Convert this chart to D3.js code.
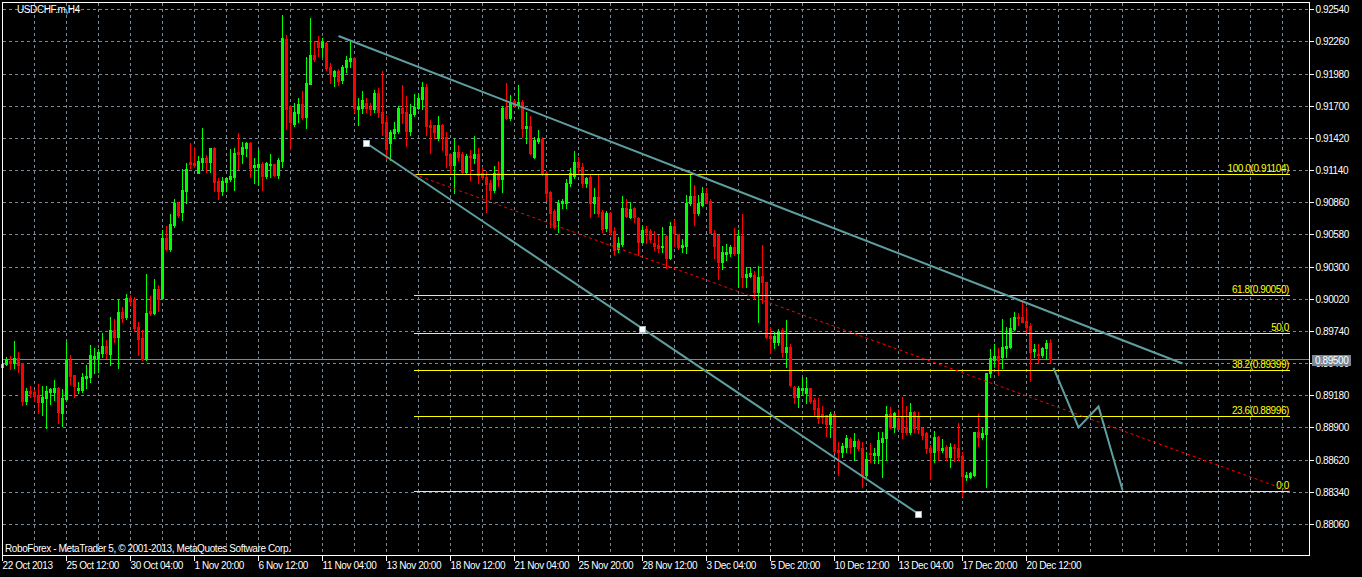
<!DOCTYPE html>
<html>
<head>
<meta charset="utf-8">
<script src="https://cdn.jsdelivr.net/npm/d3@7"></script>
<style>
  html, body { margin: 0; padding: 0; background: #000; overflow: hidden; }
  svg { display: block; }
  text { font-family: "Liberation Sans", Arial, sans-serif; font-size: 10px; letter-spacing: -0.4px; }
</style>
</head>
<body>
<svg id="chart" width="1362" height="577"></svg>
<script>
// USDCHF H4 candles, 22 Oct 2013 20:00 .. 23 Dec 2013 08:00
const open = [
0.89427,0.89453,0.89479,0.89461,0.89505,0.89461,0.89131,0.89218,0.89209,0.89183,
0.89122,0.89157,0.89209,0.89209,0.89244,0.89026,0.89148,0.89488,0.89357,0.89226,
0.89226,0.89331,0.89340,0.89505,0.89505,0.89549,0.89609,0.89540,0.89749,0.89688,
0.89905,0.89862,0.90027,0.90019,0.89775,0.89679,0.89496,0.89914,0.89897,0.90106,
0.90027,0.90549,0.90454,0.90663,0.90854,0.90776,0.90959,0.91211,0.91202,0.91115,
0.91211,0.91246,0.91211,0.91333,0.91046,0.90959,0.91037,0.91063,0.91080,0.91298,
0.91281,0.91333,0.91376,0.91167,0.91167,0.91194,0.91089,0.91185,0.91194,0.91098,
0.91220,0.92282,0.91698,0.91542,0.91637,0.91716,0.91603,0.91890,0.92142,0.92255,
0.92212,0.92247,0.92038,0.91960,0.92003,0.91925,0.92038,0.92090,0.92116,0.91672,
0.91681,0.91725,0.91690,0.91672,0.91812,0.91646,0.91559,0.91376,0.91463,0.91481,
0.91681,0.91646,0.91481,0.91629,0.91681,0.91759,0.91864,0.91533,0.91533,0.91420,
0.91533,0.91429,0.91281,0.91185,0.91298,0.91281,0.91124,0.91263,0.91246,0.91281,
0.91115,0.91080,0.91028,0.90967,0.91115,0.91063,0.91690,0.91594,0.91742,0.91707,
0.91733,0.91507,0.91524,0.91255,0.91394,0.91411,0.91115,0.90950,0.90785,0.90706,
0.90854,0.90854,0.91028,0.91089,0.91211,0.91167,0.91028,0.91080,0.90854,0.90906,
0.90776,0.90637,0.90767,0.90610,0.90454,0.90497,0.90811,0.90732,0.90811,0.90724,
0.90515,0.90628,0.90610,0.90506,0.90489,0.90471,0.90567,0.90375,0.90654,0.90584,
0.90471,0.90480,0.90854,0.90915,0.90767,0.90837,0.90941,0.90872,0.90593,0.90576,
0.90341,0.90410,0.90419,0.90471,0.90419,0.90567,0.90210,0.90219,0.90227,0.90079,
0.90219,0.90167,0.89697,0.89644,0.89644,0.89749,0.89557,0.89601,0.89253,0.89166,
0.89226,0.89200,0.89244,0.89139,0.89070,0.89018,0.89009,0.88931,0.89018,0.88704,
0.88687,0.88730,0.88800,0.88739,0.88783,0.88722,0.88487,0.88678,0.88661,0.88661,
0.88774,0.88809,0.89018,0.88904,0.88983,0.88991,0.88904,0.88861,0.89035,0.88991,
0.88896,0.88852,0.88722,0.88687,0.88817,0.88704,0.88730,0.88643,0.88730,0.88722,
0.88652,0.88469,0.88469,0.88487,0.88861,0.88817,0.88844,0.89374,0.89488,0.89522,
0.89514,0.89592,0.89601,0.89757,0.89862,0.89862,0.89827,0.89784,0.89566,0.89540,
0.89531,0.89592,0.89636
];
const high = [
0.89470,0.89514,0.89522,0.89653,0.89557,0.89461,0.89244,0.89261,0.89226,0.89279,
0.89261,0.89261,0.89244,0.89314,0.89253,0.89235,0.89644,0.89531,0.89357,0.89296,
0.89374,0.89444,0.89618,0.89592,0.89583,0.89723,0.89662,0.89862,0.89844,0.90019,
0.89949,0.90062,0.90053,0.90036,0.89818,0.89749,0.90236,0.90045,0.90193,0.90140,
0.90619,0.90654,0.90758,0.90889,0.90863,0.91150,0.91202,0.91376,0.91342,0.91263,
0.91507,0.91272,0.91333,0.91342,0.91072,0.91080,0.91080,0.91324,0.91333,0.91463,
0.91385,0.91385,0.91385,0.91246,0.91324,0.91211,0.91211,0.91281,0.91194,0.91246,
0.92490,0.92316,0.91707,0.91725,0.91768,0.91829,0.92125,0.92464,0.92264,0.92308,
0.92290,0.92255,0.92073,0.92012,0.92020,0.92055,0.92134,0.92264,0.92125,0.91768,
0.91829,0.91768,0.91725,0.91838,0.91855,0.92003,0.91620,0.91490,0.91559,0.91698,
0.91881,0.91785,0.91716,0.91803,0.91803,0.91907,0.91890,0.91577,0.91533,0.91611,
0.91542,0.91472,0.91289,0.91411,0.91359,0.91298,0.91281,0.91315,0.91437,0.91333,
0.91167,0.91133,0.91054,0.91176,0.91220,0.91698,0.91899,0.91794,0.91751,0.91881,
0.91751,0.91646,0.91611,0.91429,0.91490,0.91429,0.91133,0.90959,0.90802,0.90880,
0.90889,0.91063,0.91159,0.91307,0.91255,0.91202,0.91080,0.91107,0.90985,0.91098,
0.90793,0.90785,0.90776,0.90645,0.90558,0.90915,0.90889,0.90863,0.90819,0.90732,
0.90654,0.90654,0.90628,0.90610,0.90576,0.90645,0.90576,0.90689,0.90706,0.90584,
0.90541,0.90924,0.91107,0.91011,0.90924,0.90993,0.90985,0.90889,0.90619,0.90576,
0.90480,0.90497,0.90489,0.90637,0.90619,0.90758,0.90297,0.90297,0.90262,0.90306,
0.90489,0.90167,0.89775,0.89731,0.89757,0.89766,0.89836,0.89627,0.89261,0.89261,
0.89340,0.89340,0.89244,0.89157,0.89157,0.89087,0.89009,0.89035,0.89018,0.88774,
0.88765,0.88835,0.88817,0.88852,0.88800,0.88774,0.88687,0.88765,0.88722,0.88861,
0.88861,0.89087,0.89079,0.89035,0.89061,0.89166,0.89087,0.89113,0.89044,0.89035,
0.88904,0.88861,0.88748,0.88870,0.88826,0.88800,0.88748,0.88765,0.88756,0.88939,
0.88687,0.88513,0.88513,0.88861,0.89018,0.88904,0.89374,0.89583,0.89627,0.89592,
0.89844,0.89775,0.89853,0.89905,0.89897,0.90010,0.89949,0.89810,0.89627,0.89627,
0.89601,0.89662,0.89670
];
const low = [
0.89418,0.89444,0.89409,0.89418,0.89383,0.89096,0.89105,0.89166,0.89131,0.89026,
0.89009,0.88896,0.89105,0.89139,0.88939,0.88913,0.89139,0.89279,0.89166,0.89200,
0.89209,0.89244,0.89296,0.89374,0.89383,0.89514,0.89505,0.89444,0.89644,0.89418,
0.89818,0.89844,0.89975,0.89740,0.89531,0.89488,0.89488,0.89879,0.89888,0.89914,
0.90027,0.90445,0.90436,0.90645,0.90732,0.90706,0.90854,0.91159,0.91167,0.91115,
0.91150,0.91124,0.91124,0.90959,0.90889,0.90924,0.90967,0.91046,0.90967,0.91150,
0.91202,0.91263,0.91080,0.91028,0.91011,0.90967,0.91072,0.91080,0.91089,0.91072,
0.91167,0.91498,0.91324,0.91524,0.91559,0.91585,0.91507,0.91890,0.92090,0.92134,
0.92134,0.92012,0.91899,0.91873,0.91881,0.91899,0.91994,0.92038,0.91646,0.91533,
0.91637,0.91646,0.91620,0.91646,0.91603,0.91446,0.91237,0.91228,0.91420,0.91463,
0.91550,0.91350,0.91446,0.91611,0.91672,0.91672,0.91446,0.91289,0.91420,0.91402,
0.91315,0.91167,0.91115,0.90941,0.91228,0.91115,0.91115,0.91054,0.91202,0.91028,
0.91063,0.90776,0.90889,0.90950,0.91002,0.90950,0.91585,0.91577,0.91690,0.91681,
0.91429,0.91376,0.91281,0.91246,0.91376,0.91098,0.90880,0.90645,0.90637,0.90602,
0.90811,0.90811,0.91002,0.91072,0.91115,0.90993,0.90993,0.90732,0.90767,0.90741,
0.90602,0.90610,0.90584,0.90402,0.90428,0.90480,0.90732,0.90724,0.90689,0.90402,
0.90506,0.90506,0.90515,0.90445,0.90428,0.90428,0.90288,0.90367,0.90480,0.90454,
0.90428,0.90419,0.90837,0.90663,0.90750,0.90828,0.90854,0.90593,0.90375,0.90193,
0.90280,0.90358,0.90393,0.90402,0.90123,0.90123,0.90123,0.90210,0.90019,0.89818,
0.89984,0.89679,0.89549,0.89592,0.89618,0.89514,0.89427,0.89261,0.89113,0.89079,
0.89183,0.89113,0.89113,0.89009,0.88939,0.88939,0.88826,0.88817,0.88687,0.88487,
0.88643,0.88687,0.88678,0.88617,0.88704,0.88382,0.88469,0.88600,0.88591,0.88591,
0.88469,0.88617,0.88896,0.88861,0.88887,0.88809,0.88844,0.88844,0.88861,0.88852,
0.88800,0.88678,0.88452,0.88600,0.88617,0.88687,0.88617,0.88556,0.88609,0.88617,
0.88304,0.88443,0.88461,0.88478,0.88739,0.88800,0.88382,0.89340,0.89427,0.89357,
0.89418,0.89514,0.89592,0.89749,0.89792,0.89818,0.89723,0.89305,0.89514,0.89461,
0.89514,0.89496,0.89461
];
const close = [
0.89453,0.89496,0.89461,0.89505,0.89444,0.89131,0.89218,0.89200,0.89174,0.89122,
0.89166,0.89218,0.89235,0.89244,0.89035,0.89157,0.89488,0.89348,0.89261,0.89244,
0.89340,0.89348,0.89531,0.89522,0.89557,0.89609,0.89549,0.89749,0.89688,0.89905,
0.89853,0.90027,0.90001,0.89766,0.89670,0.89496,0.89897,0.89897,0.90106,0.90019,
0.90549,0.90454,0.90671,0.90854,0.90750,0.90967,0.91150,0.91194,0.91185,0.91220,
0.91246,0.91211,0.91333,0.91037,0.90959,0.91046,0.91072,0.91089,0.91289,0.91281,
0.91342,0.91376,0.91159,0.91185,0.91194,0.91089,0.91202,0.91194,0.91098,0.91228,
0.92290,0.91672,0.91559,0.91646,0.91716,0.91603,0.91899,0.92142,0.92108,0.92212,
0.92255,0.92029,0.91977,0.92003,0.91916,0.92038,0.92099,0.92116,0.91681,0.91698,
0.91751,0.91681,0.91672,0.91812,0.91646,0.91550,0.91324,0.91472,0.91498,0.91681,
0.91637,0.91481,0.91629,0.91690,0.91768,0.91864,0.91524,0.91516,0.91472,0.91533,
0.91429,0.91272,0.91185,0.91298,0.91255,0.91124,0.91263,0.91255,0.91281,0.91098,
0.91080,0.91020,0.90967,0.91115,0.91063,0.91681,0.91594,0.91733,0.91707,0.91733,
0.91507,0.91524,0.91289,0.91402,0.91411,0.91115,0.90941,0.90767,0.90645,0.90854,
0.90872,0.91028,0.91115,0.91211,0.91167,0.91028,0.91072,0.90854,0.90906,0.90767,
0.90628,0.90767,0.90602,0.90445,0.90506,0.90811,0.90741,0.90802,0.90732,0.90515,
0.90619,0.90602,0.90541,0.90480,0.90462,0.90480,0.90375,0.90654,0.90593,0.90471,
0.90489,0.90854,0.90915,0.90767,0.90854,0.90941,0.90854,0.90593,0.90480,0.90341,
0.90428,0.90428,0.90471,0.90419,0.90567,0.90210,0.90236,0.90245,0.90079,0.90210,
0.90167,0.89688,0.89679,0.89697,0.89731,0.89557,0.89601,0.89270,0.89166,0.89244,
0.89244,0.89244,0.89131,0.89061,0.88983,0.88991,0.88931,0.89018,0.88696,0.88687,
0.88739,0.88809,0.88730,0.88783,0.88722,0.88487,0.88626,0.88669,0.88678,0.88791,
0.88809,0.89018,0.88904,0.89026,0.88887,0.88861,0.88861,0.89035,0.88896,0.88887,
0.88835,0.88722,0.88687,0.88817,0.88704,0.88722,0.88643,0.88730,0.88722,0.88643,
0.88478,0.88487,0.88504,0.88861,0.88817,0.88852,0.89374,0.89505,0.89522,0.89488,
0.89601,0.89609,0.89766,0.89862,0.89853,0.89818,0.89775,0.89557,0.89583,0.89531,
0.89592,0.89636,0.89500
];

// Time axis: one label every 16 bars
const timeTicks = [0, 16, 32, 48, 64, 80, 96, 112, 128, 144, 160, 176, 192, 208, 224, 240, 256];
const timeLabels = ["22 Oct 2013", "25 Oct 12:00", "30 Oct 04:00", "1 Nov 20:00", "6 Nov 12:00",
  "11 Nov 04:00", "13 Nov 20:00", "18 Nov 12:00", "21 Nov 04:00", "25 Nov 20:00", "28 Nov 12:00",
  "3 Dec 04:00", "5 Dec 20:00", "10 Dec 12:00", "13 Dec 04:00", "17 Dec 20:00", "20 Dec 12:00"];

// Price axis levels
const priceTicks = [0.92540, 0.92260, 0.91980, 0.91700, 0.91420, 0.91140, 0.90860, 0.90580, 0.90300,
  0.90020, 0.89740, 0.89460, 0.89180, 0.88900, 0.88620, 0.88340, 0.88060];

// Fibonacci retracement between two anchors (bar index, price)
const fibStart = { bar: 103, price: 0.91104 };
const fibEnd = { bar: 322, price: 0.88345 };
const fibLevels = [100, 61.8, 50, 38.2, 23.6, 0];
const fibLabels = ["100.0(0.91104)", "61.8(0.90050)", "50.0", "38.2(0.89399)", "23.6(0.88996)", "0.0"];

// Drawn objects
const upperTrend = [{ bar: 84, price: 0.92308 }, { bar: 295, price: 0.89457 }];
const lowerTrend = [{ bar: 91, price: 0.91374 }, { bar: 160, price: 0.89761 }, { bar: 229, price: 0.88147 }];
const forecastPath = [{ bar: 262.75, price: 0.89418 }, { bar: 269, price: 0.88900 },
  { bar: 274, price: 0.89083 }, { bar: 280, price: 0.88356 }];

const bidPrice = 0.89500;
const chartTitle = "USDCHF.m,H4";
const footerText = "RoboForex - MetaTrader 5, \u00A9 2001-2013, MetaQuotes Software Corp.";

// ---------------------------------------------------------------
const W = 1362, H = 577;
const frame = { left: 2, top: 2, right: 1309, bottom: 555 };
const bull = "#00ff00", bear = "#ff0000";
const gridColor = "#778899";
const objColor = "#5f9ea0";

const svg = d3.select("#chart");
svg.append("rect").attr("width", W).attr("height", H).attr("fill", "#000");

// one bar every 4 px, bar 0 sits on the left frame
const x = d3.scaleLinear().domain([0, 1]).range([2, 6]);
const y = d3.scaleLinear().domain([0.88060, 0.92540]).range([524, 9.3]);
const px = v => Math.round(y(v));

// grid
const grid = svg.append("g").attr("stroke", gridColor).attr("stroke-dasharray", "3,3")
  .attr("shape-rendering", "crispEdges");
grid.append("g").selectAll("line").data(priceTicks).join("line")
  .attr("x1", frame.left + 1).attr("x2", frame.right)
  .attr("y1", d => px(d) + 0.5).attr("y2", d => px(d) + 0.5);
grid.append("g").selectAll("line").data(d3.range(8, 321, 8)).join("line")
  .attr("x1", d => Math.round(x(d)) + 0.5).attr("x2", d => Math.round(x(d)) + 0.5)
  .attr("y1", frame.top + 1).attr("y2", frame.bottom);

// bid line
svg.append("line").attr("x1", frame.left + 1).attr("x2", frame.right)
  .attr("y1", px(bidPrice) + 0.5).attr("y2", px(bidPrice) + 0.5)
  .attr("stroke", gridColor).attr("shape-rendering", "crispEdges");

// candles
const idx = d3.range(open.length);
const candles = svg.append("g").attr("shape-rendering", "crispEdges");
candles.append("g").selectAll("rect").data(idx).join("rect")
  .attr("x", i => Math.round(x(i)))
  .attr("y", i => px(high[i]))
  .attr("width", 1)
  .attr("height", i => Math.max(1, px(low[i]) - px(high[i]) + 1))
  .attr("fill", i => close[i] >= open[i] ? bull : bear);
candles.append("g").selectAll("rect").data(idx).join("rect")
  .attr("x", i => Math.round(x(i)) - 1)
  .attr("y", i => px(Math.max(open[i], close[i])))
  .attr("width", 3)
  .attr("height", i => Math.max(1, px(Math.min(open[i], close[i])) - px(Math.max(open[i], close[i])) + 1))
  .attr("fill", i => close[i] >= open[i] ? bull : bear);

// Fibonacci levels
const fibPrice = l => fibEnd.price + (fibStart.price - fibEnd.price) * l / 100;
const fib = svg.append("g");
fib.selectAll("line").data(fibLevels).join("line")
  .attr("x1", x(fibStart.bar)).attr("x2", x(fibEnd.bar))
  .attr("y1", d => px(fibPrice(d)) + 0.5).attr("y2", d => px(fibPrice(d)) + 0.5)
  .attr("stroke", "#ffff00").attr("shape-rendering", "crispEdges");
fib.selectAll("text").data(fibLevels).join("text")
  .attr("x", x(fibEnd.bar) - 1)
  .attr("y", d => px(fibPrice(d)) - 2.5)
  .attr("text-anchor", "end").attr("fill", "#ffff00")
  .text((d, i) => fibLabels[i]);
fib.append("line")
  .attr("x1", x(fibStart.bar)).attr("y1", y(fibStart.price))
  .attr("x2", x(fibEnd.bar)).attr("y2", y(fibEnd.price))
  .attr("stroke", "#ff0000").attr("stroke-dasharray", "3,3");

// trend lines and forecast path
const line = d3.line().x(d => x(d.bar) + 0.5).y(d => y(d.price));
const objs = svg.append("g").attr("fill", "none").attr("stroke", objColor).attr("stroke-width", 2);
objs.append("path").attr("d", line(upperTrend));
objs.append("path").attr("d", line(lowerTrend));
objs.append("path").attr("d", line(forecastPath)).attr("stroke-linejoin", "miter");
svg.append("g").selectAll("rect").data(lowerTrend).join("rect")
  .attr("x", d => Math.round(x(d.bar)) - 3 + 0.5).attr("y", d => Math.round(y(d.price)) - 3 + 0.5)
  .attr("width", 6).attr("height", 6)
  .attr("fill", "#ffffff").attr("stroke", "#9fb6c0").attr("stroke-width", 1)
  .attr("shape-rendering", "crispEdges");

// frame
svg.append("rect")
  .attr("x", frame.left + 0.5).attr("y", frame.top + 0.5)
  .attr("width", frame.right - frame.left).attr("height", frame.bottom - frame.top)
  .attr("fill", "none").attr("stroke", "#ffffff").attr("shape-rendering", "crispEdges");

// price axis
const yAxis = d3.axisRight(y).tickValues(priceTicks).tickFormat(d3.format(".5f"))
  .tickSize(4).tickPadding(2);
svg.append("g").attr("transform", `translate(${frame.right + 0.5},0)`).call(yAxis)
  .attr("font-family", null).attr("font-size", null)
  .call(g => g.select(".domain").remove())
  .call(g => g.selectAll(".tick").attr("transform", d => `translate(0,${px(d) + 0.5})`))
  .call(g => g.selectAll("line").attr("stroke", "#ffffff").attr("shape-rendering", "crispEdges"))
  .call(g => g.selectAll("text").attr("fill", "#ffffff"));

// time axis
const xAxis = d3.axisBottom(x).tickValues(timeTicks).tickFormat((d, i) => timeLabels[i])
  .tickSize(5).tickPadding(1);
svg.append("g").attr("transform", `translate(0,${frame.bottom + 1})`).call(xAxis)
  .attr("font-family", null).attr("font-size", null)
  .call(g => g.select(".domain").remove())
  .call(g => g.selectAll("line").attr("stroke", "#ffffff").attr("shape-rendering", "crispEdges"))
  .call(g => g.selectAll("text").attr("fill", "#ffffff").attr("text-anchor", "start").attr("x", 0));

// bid price tag
const bidY = px(bidPrice);
svg.append("rect").attr("x", 1312).attr("y", bidY - 4).attr("width", 39).attr("height", 11)
  .attr("fill", gridColor);
svg.append("text").attr("x", 1315).attr("y", bidY + 4.5).attr("fill", "#ffffff")
  .text(d3.format(".5f")(bidPrice));

// captions
svg.append("text").attr("x", 17).attr("y", 13).attr("fill", "#ffffff").text(chartTitle);
svg.append("text").attr("x", 5).attr("y", 552).attr("fill", "#ffffff").text(footerText);
</script>
</body>
</html>
